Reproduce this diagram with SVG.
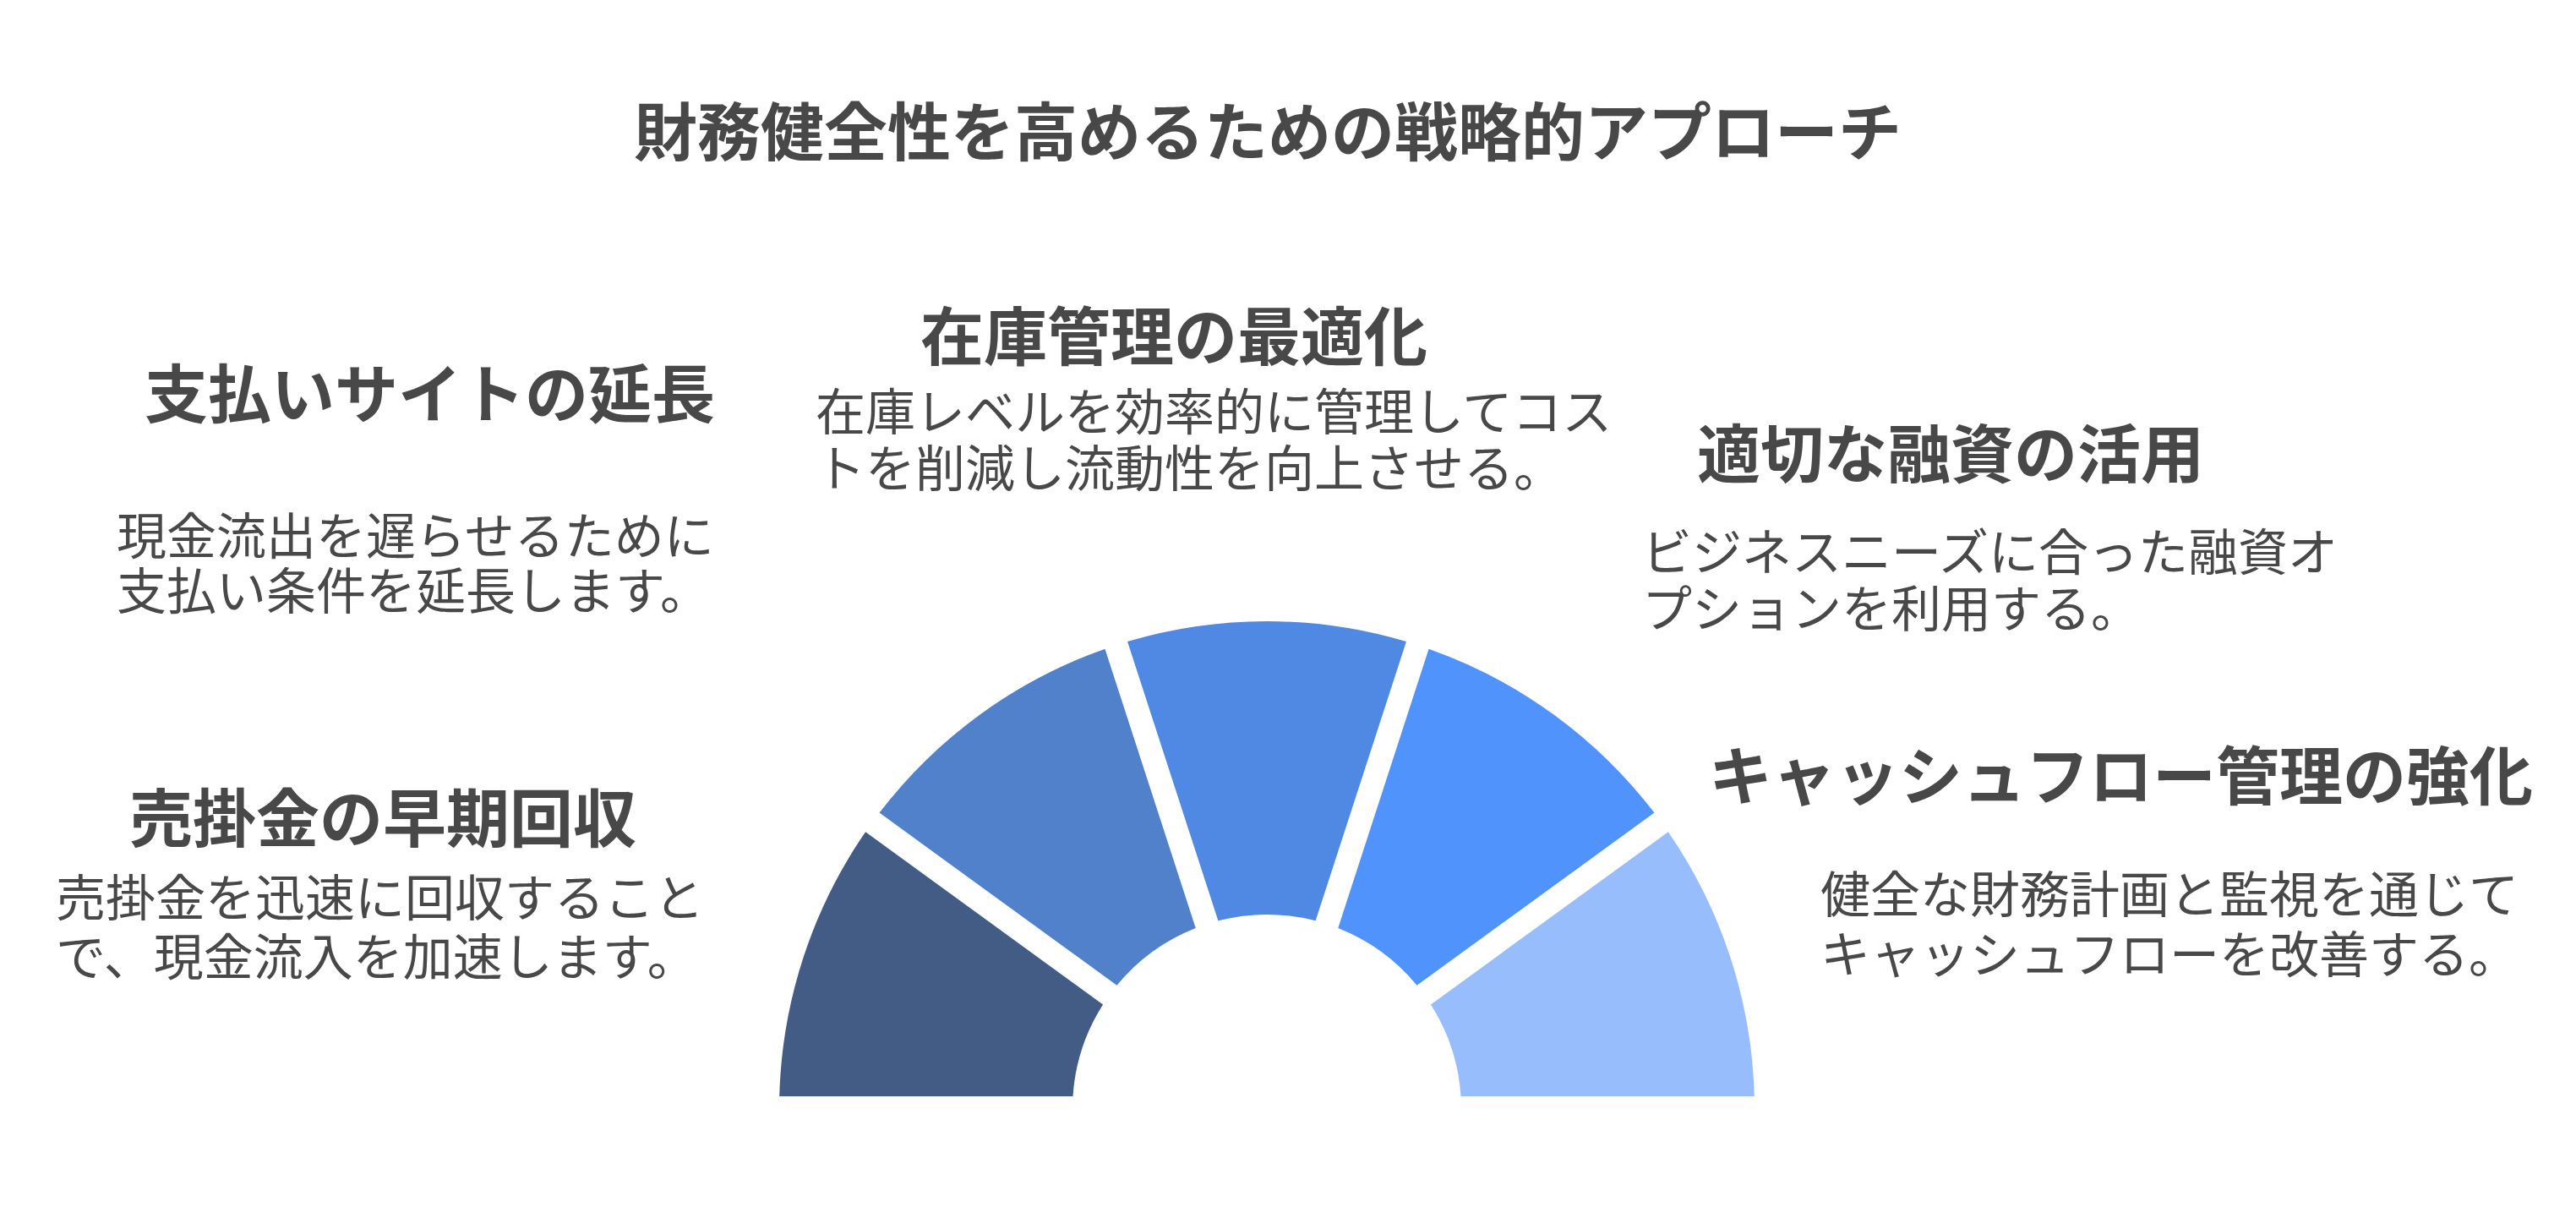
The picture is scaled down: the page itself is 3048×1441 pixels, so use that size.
<svg xmlns="http://www.w3.org/2000/svg" width="3048" height="1441" viewBox="0 0 3048 1441">
<style>
text { font-family: "Noto Sans CJK JP", "Noto Sans", sans-serif; fill: #484848; }
.title { font-size: 75px; font-weight: 700; }
.head { font-size: 75px; font-weight: 700; }
.desc { font-size: 59px; font-weight: 400; }
</style>
<rect width="3048" height="1441" fill="#ffffff"/>
<g id="title">
<text class="title" x="1500" y="184" text-anchor="middle">財務健全性を高めるための戦略的アプローチ</text>
</g>
<g id="connectors"></g>
<g id="item-receivables">
<path d="M 922.2 1297 A 577 577 0 0 1 1024.11 984.28 L 1305.04 1188.39 A 230 230 0 0 0 1269.49 1297 Z" fill="#425C86"/>
<text class="head" x="153" y="996">売掛金の早期回収</text>
<text class="desc"><tspan x="66" y="1084">売掛金を迅速に回収すること</tspan><tspan x="66" y="1154">で、現金流入を加速します。</tspan></text>
</g>
<g id="item-payment-terms">
<path d="M 1040.56 961.62 A 577 577 0 0 1 1307.44 767.73 L 1414.74 1097.99 A 230 230 0 0 0 1321.5 1165.73 Z" fill="#5181CB"/>
<text class="head" x="171" y="494">支払いサイトの延長</text>
<text class="desc"><tspan x="138" y="656">現金流出を遅らせるために</tspan><tspan x="138" y="721">支払い条件を延長します。</tspan></text>
</g>
<g id="item-inventory">
<path d="M 1334.06 759.08 A 577 577 0 0 1 1663.94 759.08 L 1556.63 1089.34 A 230 230 0 0 0 1441.37 1089.34 Z" fill="#4F89E4"/>
<text class="head" x="1089" y="426">在庫管理の最適化</text>
<text class="desc"><tspan x="965" y="509">在庫レベルを効率的に管理してコス</tspan><tspan x="965" y="576">トを削減し流動性を向上させる。</tspan></text>
</g>
<g id="item-financing">
<path d="M 1690.56 767.73 A 577 577 0 0 1 1957.44 961.62 L 1676.5 1165.73 A 230 230 0 0 0 1583.26 1097.99 Z" fill="#5193FC"/>
<text class="head" x="2008" y="565">適切な融資の活用</text>
<text class="desc"><tspan x="1943" y="675">ビジネスニーズに合った融資オ</tspan><tspan x="1943" y="742">プションを利用する。</tspan></text>
</g>
<g id="item-cashflow">
<path d="M 1973.89 984.28 A 577 577 0 0 1 2075.8 1297 L 1728.51 1297 A 230 230 0 0 0 1692.96 1188.39 Z" fill="#98BDFC"/>
<text class="head" x="2022" y="946">キャッシュフロー管理の強化</text>
<text class="desc"><tspan x="2154" y="1080">健全な財務計画と監視を通じて</tspan><tspan x="2154" y="1151">キャッシュフローを改善する。</tspan></text>
</g>
</svg>
